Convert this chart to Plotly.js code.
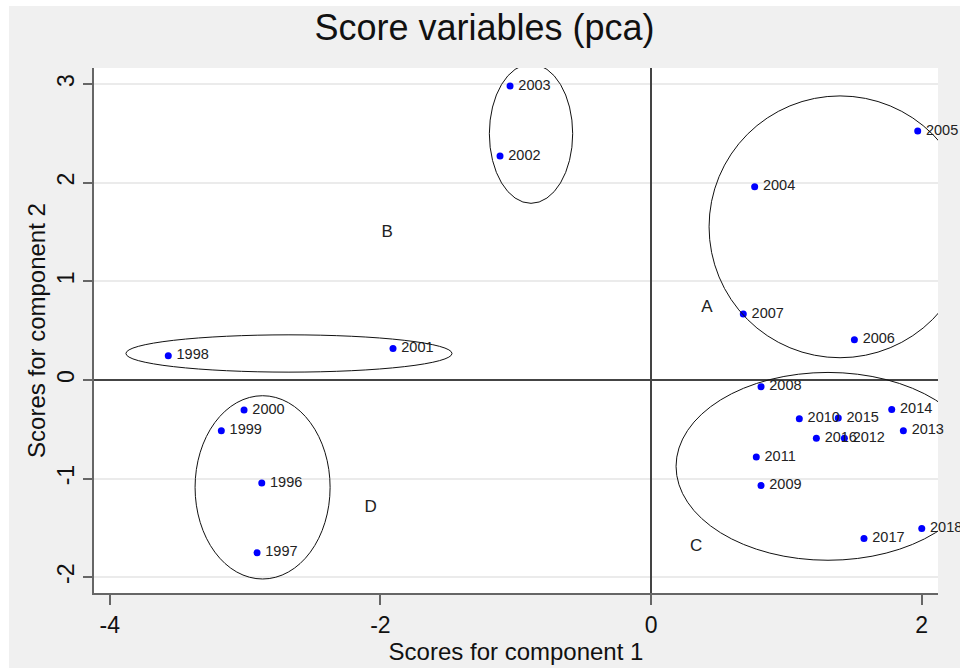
<!DOCTYPE html>
<html>
<head>
<meta charset="utf-8">
<script src="https://cdn.plot.ly/plotly-3.0.1.min.js"></script>
<style>
  html, body { margin: 0; padding: 0; background: #ffffff; }
  #chart { position: absolute; left: 9px; top: 6px; width: 951px; height: 662px; }
</style>
</head>
<body>
<div id="chart"></div>
<script>
// Observation labels (years)
const years = ["1996","1997","1998","1999","2000","2001","2002","2003","2004","2005","2006","2007",
               "2008","2009","2010","2011","2012","2013","2014","2015","2016","2017","2018"];
// Scores for component 1
const score1 = [-2.877, -2.912, -3.568, -3.176, -3.008, -1.907, -1.116, -1.042, 0.766, 1.971, 1.503, 0.682,
                0.813, 0.813, 1.096, 0.778, 1.429, 1.865, 1.779, 1.384, 1.222, 1.574, 2.001];
// Scores for component 2
const score2 = [-1.044, -1.753, 0.245, -0.514, -0.305, 0.319, 2.271, 2.980, 1.957, 2.524, 0.407, 0.667,
                -0.069, -1.071, -0.393, -0.781, -0.592, -0.514, -0.299, -0.386, -0.592, -1.608, -1.507];

// Group letters
const groupNames = ["A", "B", "C", "D"];
const groupX = [0.414, -1.950, 0.333, -2.072];
const groupY = [0.731, 1.488, -1.690, -1.297];

// Ellipses drawn round the groups: centre and half-axes in score units
const ellCx = [1.397, -0.887, 1.308, -2.676, -2.871];
const ellCy = [1.552, 2.496, -0.876, 0.268, -1.089];
const ellRx = [0.968, 0.308, 1.123, 1.205, 0.499];
const ellRy = [1.327, 0.706, 0.952, 0.189, 0.929];

const font = "Liberation Sans, Arial, sans-serif";

const points = {
  type: "scatter",
  mode: "markers+text",
  x: score1,
  y: score2,
  text: years.map(t => "\u2009" + t),
  textposition: "middle right",
  textfont: { family: font, size: 14.5, color: "#222222" },
  marker: { color: "#0000ff", size: 7 },
  cliponaxis: false,
  hoverinfo: "x+y+text",
  showlegend: false
};

const groups = {
  type: "scatter",
  mode: "text",
  x: groupX,
  y: groupY,
  text: groupNames,
  textposition: "middle center",
  textfont: { family: font, size: 17, color: "#222222" },
  hoverinfo: "skip",
  showlegend: false
};

const shapes = ellCx.map((cx, i) => ({
  type: "circle",
  xref: "x", yref: "y",
  x0: cx - ellRx[i], x1: cx + ellRx[i],
  y0: ellCy[i] - ellRy[i], y1: ellCy[i] + ellRy[i],
  line: { color: "#111111", width: 1 },
  layer: "above"
}));

const layout = {
  width: 951,
  height: 662,
  paper_bgcolor: "#f0f0f0",
  plot_bgcolor: "#ffffff",
  margin: { l: 85, r: 22, t: 62, b: 75, pad: 0 },
  font: { family: font, color: "#111111" },
  title: {
    text: "Score variables (pca)",
    font: { family: font, size: 36, color: "#111111" },
    x: 0.5, xanchor: "center",
    y: 0.968, yanchor: "middle"
  },
  xaxis: {
    range: [-4.117, 2.121],
    tickvals: [-4, -2, 0, 2],
    ticktext: ["-4", "-2", "0", "2"],
    ticks: "outside", ticklen: 10, tickwidth: 2, tickcolor: "#666666",
    tickfont: { family: font, size: 23, color: "#111111" },
    showgrid: false,
    zeroline: true, zerolinecolor: "#444444", zerolinewidth: 2,
    showline: true, linecolor: "#666666", linewidth: 2,
    automargin: true,
    title: { text: "Scores for component 1", font: { family: font, size: 24, color: "#111111" }, standoff: 3 },
    fixedrange: true
  },
  yaxis: {
    range: [-2.160, 3.162],
    tickvals: [-2, -1, 0, 1, 2, 3],
    ticktext: ["-2", "-1", "0", "1", "2", "3"],
    tickangle: -90,
    ticks: "outside", ticklen: 9, tickwidth: 2, tickcolor: "#666666",
    tickfont: { family: font, size: 23, color: "#111111" },
    showgrid: true, gridcolor: "#ebebeb", gridwidth: 2,
    zeroline: true, zerolinecolor: "#444444", zerolinewidth: 2,
    showline: true, linecolor: "#666666", linewidth: 2,
    automargin: true,
    title: { text: "Scores for component 2", font: { family: font, size: 24, color: "#111111" }, standoff: 0 },
    fixedrange: true
  },
  shapes: shapes
};

Plotly.newPlot("chart", [points, groups], layout, { displayModeBar: false, staticPlot: true });
</script>
</body>
</html>
